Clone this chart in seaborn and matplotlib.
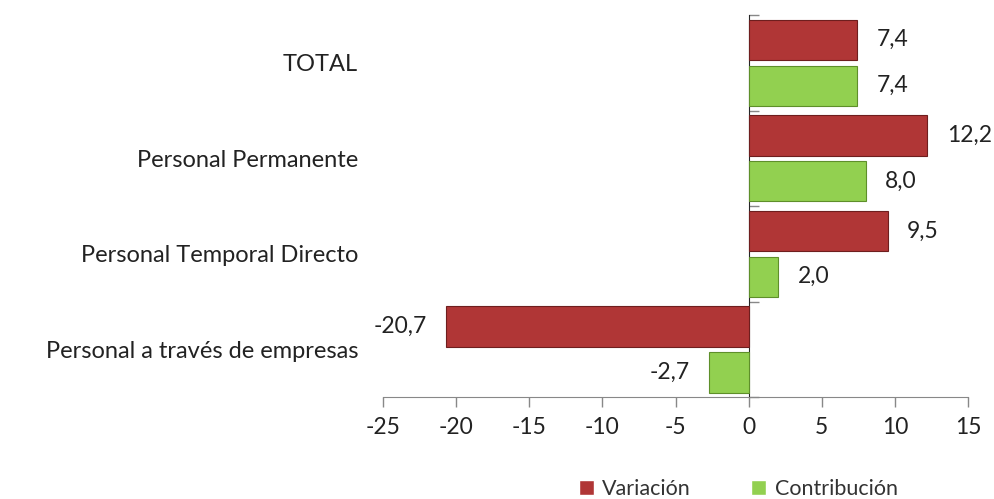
import numpy as np
import pandas as pd
import seaborn as sns
import matplotlib.pyplot as plt

# data
categories = ['TOTAL', 'Personal Permanente', 'Personal Temporal Directo', 'Personal a través de empresas']
variacion = [7.4, 12.2, 9.5, -20.7]
contribucion = [7.4, 8.0, 2.0, -2.7]
series = ['Variación', 'Contribución']

df = pd.DataFrame({
    'categoria': categories * 2,
    'valor': variacion + contribucion,
    'serie': [series[0]] * len(categories) + [series[1]] * len(categories),
})

sns.set_style('white')
plt.rcParams['font.family'] = ['Lato', 'DejaVu Sans']

fig = plt.figure(figsize=(9.95, 4.99), dpi=100)
ax = fig.add_axes([0.385, 0.204, 0.588, 0.766])

palette = {'Variación': '#B03636', 'Contribución': '#92D050'}
sns.barplot(data=df, y='categoria', x='valor', hue='serie', order=categories,
            hue_order=series, palette=palette, orient='h', width=0.96, gap=0.12,
            saturation=1, ax=ax, legend=True)

edges = ['#6E1E1E', '#5E8F2A']
for cont, ec in zip(ax.containers, edges):
    for b in cont:
        b.set_edgecolor(ec)
        b.set_linewidth(0.8)
    vals = [b.get_width() for b in cont]
    ax.bar_label(cont, labels=[f'{v:.1f}'.replace('.', ',') for v in vals],
                 padding=14, fontsize=16.5, color='#222222')

ax.set_xlim(-25, 15)
ax.set_ylim(3.5, -0.5)
ax.set_xticks(np.arange(-25, 16, 5))
ax.set_xticklabels([str(v) for v in np.arange(-25, 16, 5)], fontsize=16.5, color='#222222')
ax.set_xlabel('')
ax.set_ylabel('')
ax.tick_params(axis='x', length=7, width=1, color='#888888', pad=7, bottom=True)
ax.tick_params(axis='y', length=0, pad=18, labelsize=17, labelcolor='#222222')
for s in ['top', 'right', 'left']:
    ax.spines[s].set_visible(False)
ax.spines['bottom'].set_color('#888888')

# vertical axis line at zero with category boundary ticks
zero = 25 / 40
sec = ax.secondary_yaxis(zero)
sec.set_yticks(np.arange(-0.5, 4, 1))
sec.set_yticklabels([])
sec.tick_params(length=7, width=1, color='#888888')
sec.spines['left'].set_color('#888888')

handles, labels = ax.get_legend_handles_labels()
ax.get_legend().remove()
fig.legend(handles, labels, loc='center', bbox_to_anchor=(0.742, 0.02), ncol=2,
           frameon=False, fontsize=15.5, handlelength=0.7, handleheight=0.7,
           handletextpad=0.4, columnspacing=2.8, labelcolor='#333333')

plt.savefig('out.png', dpi=100)
